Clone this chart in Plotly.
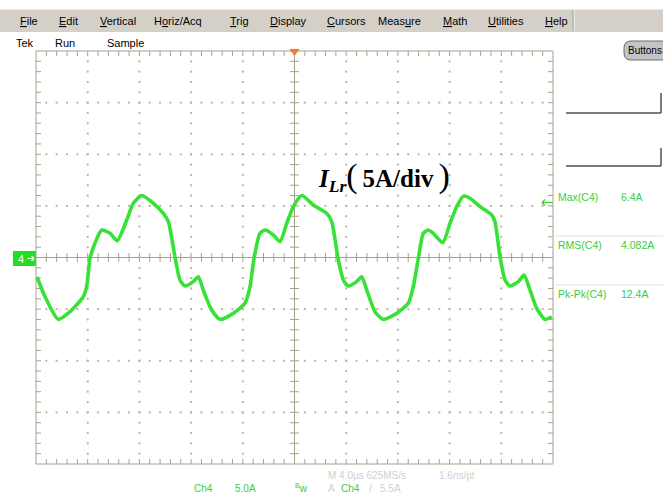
import plotly.graph_objects as go

# ---- figure / screen geometry (pixels) ----
W, H = 663, 496
GX0, GX1 = 36, 553      # graticule left / right edge
GY0, GY1 = 51, 464      # graticule top / bottom edge
PAD = 3                 # keeps the frame lines inside the plot area

# ---- scope settings ----
T_PER_DIV = 4.0         # µs / div
I_PER_DIV = 5.0         # A / div
N_XDIV, N_YDIV = 10, 8
T_HALF = N_XDIV / 2 * T_PER_DIV
I_HALF = N_YDIV / 2 * I_PER_DIV

# ---- resonant inductor current, channel 4 ----
time_us = [
    -19.92, -19.30, -18.27, -17.37, -16.34, -16.08, -15.82, -15.44, -14.92, -14.27,
    -13.71, -12.98, -12.47, -11.82, -10.92, -10.15, -9.76, -9.25, -8.86, -8.47,
    -7.83, -7.44, -7.06, -6.41, -5.76, -4.74, -3.83, -3.44, -3.13, -2.67,
    -2.28, -1.64, -1.12, -0.60, -0.09, 0.56, 1.45, 2.49, 2.88, 3.39,
    3.78, 4.16, 4.81, 5.20, 5.59, 6.23, 6.87, 7.91, 8.80, 9.19,
    9.58, 9.97, 10.35, 10.74, 11.47, 12.03, 12.55, 13.06, 13.58, 14.35,
    15.26, 15.51, 15.90, 16.29, 16.67, 17.32, 17.76, 18.22, 18.74, 19.38,
    19.90,
]
current_a = [
    -1.89, -3.80, -5.99, -5.25, -3.80, -2.83, -0.08, 1.38, 2.66, 2.34,
    1.63, 3.63, 5.25, 6.00, 5.25, 4.28, 3.47, 0.08, -2.18, -2.76,
    -2.34, -1.86, -3.15, -5.09, -5.99, -5.41, -4.44, -2.83, -0.08, 2.34,
    2.66, 2.18, 1.53, 3.31, 4.92, 6.00, 5.09, 4.28, 3.47, -0.24,
    -2.18, -2.76, -2.34, -1.86, -3.15, -5.25, -5.99, -5.41, -4.44, -2.83,
    -0.08, 2.34, 2.66, 2.34, 1.43, 3.31, 4.92, 5.95, 5.74, 4.92,
    4.12, 3.47, 0.08, -2.18, -2.76, -2.34, -1.70, -3.15, -4.92, -5.99,
    -5.74,
]

# ---- screen texts ----
menu_items = ["File", "Edit", "Vertical", "Horiz/Acq", "Trig", "Display",
              "Cursors", "Measure", "Math", "Utilities", "Help"]
menu_hotkey = [0, 0, 0, 1, 0, 0, 0, 4, 0, 0, 0]
menu_x = [29, 68, 118, 178, 239, 288, 346, 399, 455, 506, 556]

status_items = ["Tek", "Run", "Sample"]
status_x = [14, 53, 105]

meas_names = ["Max(C4)", "RMS(C4)", "Pk-Pk(C4)"]
meas_values = ["6.4A", "4.082A", "12.4A"]
meas_y = [197, 245, 294]

GREEN = "#36e236"
TXT_GREEN = "#3ccc3c"
GRAY_TXT = "#cfcfcf"
GRID = "#a6a08e"
UI_FONT = "Liberation Sans"


def fx(x):
    return x / W


def fy(y):
    return 1 - y / H


px_t = (GX1 - GX0) / (N_XDIV * T_PER_DIV)   # pixels per µs
px_i = (GY1 - GY0) / (N_YDIV * I_PER_DIV)   # pixels per A

fig = go.Figure()

# ---- graticule: frame, centre cross and their minor ticks ----
minor_t = [-T_HALF + k * T_PER_DIV / 5 for k in range(1, N_XDIV * 5)]
minor_i = [-I_HALF + k * I_PER_DIV / 5 for k in range(1, N_YDIV * 5)]
tk_t = 5 / px_i     # 5 px tick, expressed in A (vertical ticks)
tk_i = 5 / px_t     # 5 px tick, expressed in µs (horizontal ticks)
cx_t = 4.5 / px_i
cx_i = 4.5 / px_t

gx, gy = [], []


def seg(x0, y0, x1, y1):
    gx.extend([x0, x1, None])
    gy.extend([y0, y1, None])


seg(-T_HALF, -I_HALF, T_HALF, -I_HALF)
seg(T_HALF, -I_HALF, T_HALF, I_HALF)
seg(T_HALF, I_HALF, -T_HALF, I_HALF)
seg(-T_HALF, I_HALF, -T_HALF, -I_HALF)
seg(-T_HALF, 0, T_HALF, 0)
seg(0, -I_HALF, 0, I_HALF)
for t in minor_t:
    seg(t, I_HALF, t, I_HALF - tk_t)
    seg(t, -I_HALF, t, -I_HALF + tk_t)
    seg(t, -cx_t, t, cx_t)
for i in minor_i:
    seg(-T_HALF, i, -T_HALF + tk_i, i)
    seg(T_HALF, i, T_HALF - tk_i, i)
    seg(-cx_i, i, cx_i, i)

fig.add_trace(go.Scatter(x=gx, y=gy, mode="lines", hoverinfo="skip",
                         line=dict(color=GRID, width=1), showlegend=False))

# dotted major grid lines
dx, dy = [], []
major_t = [-T_HALF + k * T_PER_DIV for k in range(1, N_XDIV) if k != N_XDIV // 2]
major_i = [-I_HALF + k * I_PER_DIV for k in range(1, N_YDIV) if k != N_YDIV // 2]
for t in major_t:
    for i in minor_i:
        dx.append(t)
        dy.append(i)
for i in major_i:
    for t in minor_t:
        dx.append(t)
        dy.append(i)
fig.add_trace(go.Scatter(x=dx, y=dy, mode="markers", hoverinfo="skip",
                         marker=dict(symbol="square", size=2, color="#b9b5a8",
                                     line=dict(width=0)),
                         showlegend=False))

# ---- the waveform ----
fig.add_trace(go.Scatter(x=time_us, y=current_a, mode="lines",
                         line=dict(color=GREEN, width=3.6, shape="spline",
                                   smoothing=0.6),
                         showlegend=False))

shapes = []
ann = []


def text(x, y, s, size=10.5, color="black", family=UI_FONT, anchor="left"):
    ann.append(dict(x=fx(x), y=fy(y), xref="paper", yref="paper", text=s,
                    showarrow=False, xanchor=anchor, yanchor="middle",
                    font=dict(family=family, size=size, color=color)))


def line(x0, y0, x1, y1, color, width=1):
    shapes.append(dict(type="line", xref="paper", yref="paper",
                       x0=fx(x0), y0=fy(y0), x1=fx(x1), y1=fy(y1),
                       line=dict(color=color, width=width)))


def rect(x0, y0, x1, y1, fill, color=None, width=0):
    shapes.append(dict(type="rect", xref="paper", yref="paper",
                       x0=fx(x0), y0=fy(y0), x1=fx(x1), y1=fy(y1),
                       fillcolor=fill, line=dict(color=color or fill, width=width),
                       layer="below"))


def arrow(x_tail, x_head, y, color, width=1.2, head=3):
    """Small horizontal arrow drawn with line shapes."""
    d = head if x_head > x_tail else -head
    line(x_tail, y, x_head, y, color, width)
    line(x_head, y, x_head - d, y - head, color, width)
    line(x_head, y, x_head - d, y + head, color, width)


# ---- menu bar ----
rect(0, 9, W, 32, "#d4d0c8")
line(0, 9, W, 9, "#ffffff")
line(574, 10, 574, 31, "#ffffff")
line(573, 10, 573, 31, "#a0a0a0")
for name, k, x in zip(menu_items, menu_hotkey, menu_x):
    label = name[:k] + "<u>" + name[k] + "</u>" + name[k + 1:]
    text(x, 20.5, label, size=11, anchor="center")

for name, x in zip(status_items, status_x):
    text(x, 43, name, size=11)

# ---- "Buttons" pill ----
bx0, by0, bx1, by1, r = 624, 41, 670, 60, 7
path = (f"M {fx(bx0 + r)},{fy(by0)} L {fx(bx1 - r)},{fy(by0)} "
        f"Q {fx(bx1)},{fy(by0)} {fx(bx1)},{fy(by0 + r)} "
        f"L {fx(bx1)},{fy(by1 - r)} Q {fx(bx1)},{fy(by1)} {fx(bx1 - r)},{fy(by1)} "
        f"L {fx(bx0 + r)},{fy(by1)} Q {fx(bx0)},{fy(by1)} {fx(bx0)},{fy(by1 - r)} "
        f"L {fx(bx0)},{fy(by0 + r)} Q {fx(bx0)},{fy(by0)} {fx(bx0 + r)},{fy(by0)} Z")
shapes.append(dict(type="path", xref="paper", yref="paper", path=path,
                   fillcolor="#c4c4c4", line=dict(color="#6c6c6c", width=1)))
text(626, 50.5, "Buttons", size=10)

# ---- side brackets ----
line(566, 113, 661, 113, "#505050", 1.5)
line(661, 113, 661, 93, "#505050", 1.5)
line(566, 166, 661, 166, "#505050", 1.5)
line(661, 166, 661, 148, "#505050", 1.5)

# ---- trigger position marker ----
tx = (GX0 + GX1) / 2
shapes.append(dict(type="path", xref="paper", yref="paper",
                   path=f"M {fx(tx - 5)},{fy(49)} L {fx(tx + 5)},{fy(49)} L {fx(tx)},{fy(56)} Z",
                   fillcolor="#f27a2e", line=dict(color="#f27a2e", width=0)))

# ---- channel 4 ground marker ----
rect(13, 251, 36, 266, "#22dd22")
text(20.5, 258.5, "4", size=11, color="white", anchor="center")
arrow(27.5, 34, 258.5, "white", 1.2, 2.5)

# ---- measurements ----
for name, val, y in zip(meas_names, meas_values, meas_y):
    text(556, y, name, size=10.5, color=TXT_GREEN)
    text(619, y, val, size=10.5, color=TXT_GREEN)
line(555, 236, W, 236, "#e2e2e2")
line(555, 285, W, 285, "#e2e2e2")
arrow(553, 542, 202.5, TXT_GREEN, 1.2, 3)

# ---- channel label ----
text(316, 176,
     "<b><i>I</i></b><sub><b><i>Lr</i></b></sub>"
     "<span style='font-size:34px'>(</span><b>\u20095A/div\u2009</b>"
     "<span style='font-size:34px'>)</span>",
     size=25, family="Liberation Serif")

# ---- bottom readout ----
text(326, 475, "M 4.0µs 625MS/s", size=10, color=GRAY_TXT)
text(437, 475, "1.6ns/pt", size=10, color=GRAY_TXT)
text(192, 488, "Ch4", size=10, color=TXT_GREEN)
text(233, 488, "5.0A", size=10, color=TXT_GREEN)
text(293, 488, "<sup>B</sup>w", size=10, color=TXT_GREEN)
text(326, 488, "A", size=10, color=GRAY_TXT)
text(339, 488, "Ch4", size=10, color=TXT_GREEN)
text(367, 488, "/", size=10, color=GRAY_TXT)
text(378, 488, "5.5A", size=10, color=GRAY_TXT)

pad_t = PAD / px_t
pad_i = PAD / px_i
fig.update_layout(
    width=W, height=H,
    margin=dict(l=0, r=0, t=0, b=0),
    paper_bgcolor="white", plot_bgcolor="white",
    xaxis=dict(domain=[(GX0 - PAD) / W, (GX1 + PAD) / W],
               range=[-T_HALF - pad_t, T_HALF + pad_t],
               visible=False, fixedrange=True),
    yaxis=dict(domain=[1 - (GY1 + PAD) / H, 1 - (GY0 - PAD) / H],
               range=[-I_HALF - pad_i, I_HALF + pad_i],
               visible=False, fixedrange=True),
    shapes=shapes,
    annotations=ann,
    showlegend=False,
)

fig.write_html("out.html")
